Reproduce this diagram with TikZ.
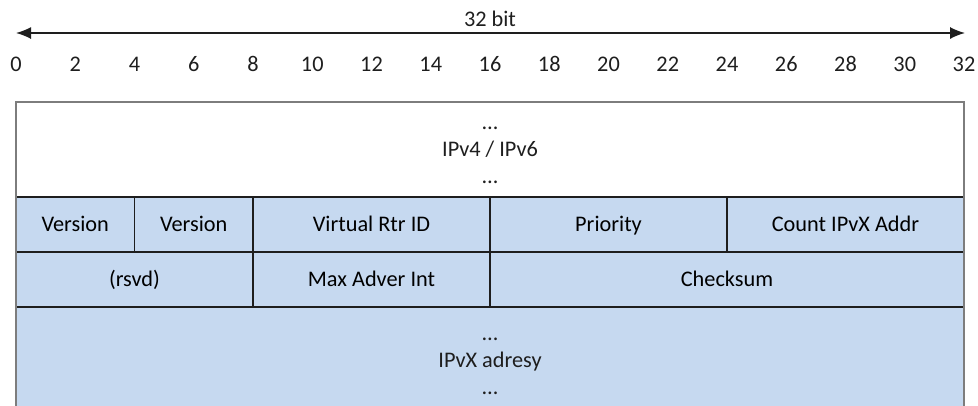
\documentclass[tikz,border=0pt]{standalone}
\usepackage{fontspec}
\setmainfont{Carlito}
\usetikzlibrary{arrows.meta}
\definecolor{cellblue}{RGB}{198,217,240}
\definecolor{framegray}{RGB}{125,125,125}
\definecolor{inkdark}{RGB}{30,30,30}
\begin{document}
\begin{tikzpicture}[x=1pt,y=-1pt,
  font=\fontsize{22.3}{27}\selectfont,
  cell/.style={draw=inkdark, line width=1.5pt, fill=cellblue, rectangle,
    inner sep=0pt, outer sep=0pt, minimum height=55pt, anchor=north west,
    text height=14.3pt, text depth=0pt},
  lbl/.style={anchor=base, inner sep=0pt, text=inkdark},
  frame/.style={draw=framegray, line width=2pt}
]
\useasboundingbox (0,0) rectangle (978,405);

% top scale
\node[lbl] (title) at (490,26) {32 bit};
\coordinate (aL) at (16,33);
\coordinate (aR) at (965,33);
\draw[inkdark, line width=1.4pt, {Latex[length=15pt,width=12pt]}-{Latex[length=15pt,width=12pt]}] (aL) -- (aR);
\foreach \k in {0,2,...,32}{
  \node[lbl] (t\k) at (16+29.625*\k,71) {\k};
}

% white IP section
\node[rectangle, fill=white, inner sep=0pt, outer sep=0pt, minimum width=948pt, minimum height=95pt, anchor=north west] (ip) at (16,102) {};
\node[lbl] (ipd1) at (490,129) {…};
\node[lbl] (ipt) at (490,156) {IPv4 / IPv6};
\node[lbl] (ipd2) at (490,183) {…};

% bottom address section
\fill[cellblue] (16,307) rectangle (964,410);
\node[lbl] (ad1) at (490,340) {…};
\node[lbl] (adt) at (490,367) {IPvX adresy};
\node[lbl] (ad2) at (490,394) {…};

% row 1
\node[cell, minimum width=118.5pt] (ver1) at (16,197) {Version};
\node[cell, minimum width=118.5pt] (ver2) at (16+29.625*4,197) {Version};
\node[cell, minimum width=237pt] (vrid) at (16+29.625*8,197) {Virtual Rtr ID};
\node[cell, minimum width=237pt] (prio) at (16+29.625*16,197) {Priority};
\node[cell, minimum width=237pt] (cnt) at (16+29.625*24,197) {Count IPvX Addr};
% row 2
\node[cell, minimum width=237pt] (rsvd) at (16,252) {(rsvd)};
\node[cell, minimum width=237pt] (madv) at (16+29.625*8,252) {Max Adver Int};
\node[cell, minimum width=474pt] (csum) at (16+29.625*16,252) {Checksum};

% outer frame
\draw[frame] (16,410) -- (16,102) -- (964,102) -- (964,410);
\end{tikzpicture}
\end{document}
